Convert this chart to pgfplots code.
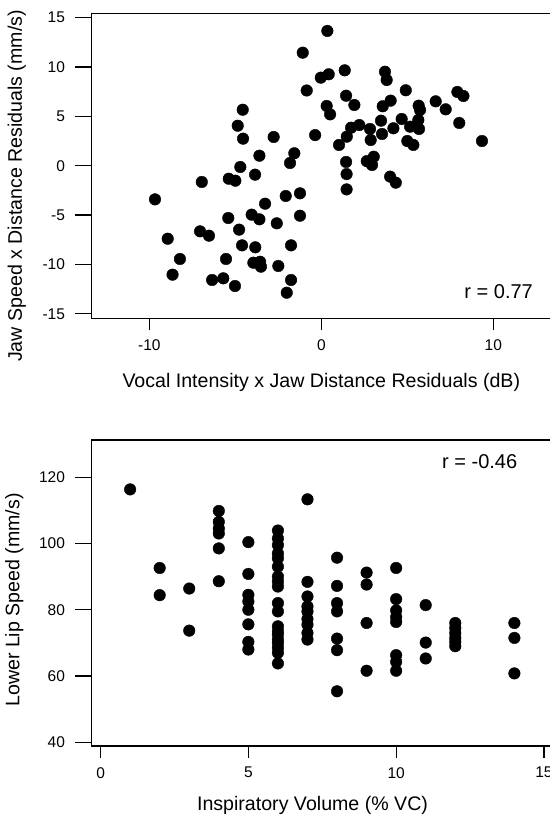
\documentclass[border=0pt]{standalone}
\usepackage{fontspec}
\setmainfont{Liberation Sans}
\usepackage{pgfplots}
\pgfplotsset{compat=1.18}
\begin{document}
\begin{tikzpicture}
\pgfplotsset{
  myax/.style={
    scale only axis, width=462pt,
    axis line style={line width=1.1pt},
    tick align=outside, tick pos=left,
    tick style={line width=1.1pt, black},
    major tick length=16.7pt,
    minor tick length=11.7pt,
    major x tick style={draw=none},
    minor x tick style={draw=black, line width=1.1pt},
    ticklabel style={font=\fontsize{15.5}{16}\selectfont},
    /pgf/number format/assume math mode=true,
    label style={font=\fontsize{19.6}{22}\selectfont},
    yticklabel style={xshift=-6.5pt},
    xticklabel style={yshift=-1pt},
  }
}
\begin{axis}[myax, at={(91.7pt,497.7pt)}, anchor=south west, height=305pt,
  xmin=-13.35, xmax=13.51, ymin=-15.46, ymax=15.44,
  xtick={-10,0,10}, minor xtick={-10,0,10}, ytick={-15,-10,-5,0,5,10,15},
  xlabel={Vocal Intensity x Jaw Distance Residuals (dB)},
  ylabel={Jaw Speed x Distance Residuals (mm/s)},
  xlabel style={at={(axis description cs:0.497,-0.228)}, anchor=base},
  ylabel style={at={(axis description cs:-0.1509,0.434)}, anchor=base},
]
\addplot[only marks, mark=*, black, mark size=5.8pt] coordinates {
(-1.08,11.45) (0.35,13.65) (1.36,9.66) (-0.03,8.92) (0.43,9.26) (-0.85,7.62)
(3.70,9.52) (3.80,8.68) (4.91,7.64) (1.44,7.09) (1.92,6.15) (4.03,6.59)
(3.57,6.02) (0.31,6.05) (0.51,5.20) (7.91,7.47) (8.26,7.06) (6.65,6.52)
(7.23,5.71) (5.66,6.08) (5.74,5.64) (8.02,4.33) (9.34,2.50) (-0.36,3.10)
(1.73,3.85) (2.21,4.12) (1.48,2.94) (1.03,2.10) (2.83,3.72) (2.87,2.60)
(3.47,4.56) (3.53,3.21) (4.19,3.79) (4.67,4.73) (5.16,3.95) (5.64,4.63)
(5.68,3.72) (5.00,2.50) (5.35,2.10) (1.44,0.38) (2.64,0.46) (3.05,0.91)
(2.95,0.07) (1.47,-0.85) (1.47,-2.40) (4.00,-1.11) (4.33,-1.72)
(-4.57,5.67) (-4.86,4.05) (-4.55,2.74) (-2.77,2.91) (-3.60,1.01) (-1.57,1.26)
(-1.82,0.27) (-4.71,-0.13) (-9.67,-3.41) (-6.95,-1.65) (-5.38,-1.32) (-5.00,-1.52)
(-3.85,-0.91) (-2.07,-3.07) (-1.24,-2.80) (-3.27,-3.85) (-4.05,-4.96) (-3.60,-5.43)
(-5.41,-5.30) (-1.24,-5.07) (-2.59,-5.84) (-4.78,-6.48) (-7.05,-6.65) (-6.53,-7.09)
(-8.93,-7.40) (-8.22,-9.45) (-8.65,-11.04) (-4.61,-8.07) (-3.84,-8.27) (-1.76,-8.07)
(-5.54,-9.45) (-3.95,-9.83) (-3.56,-9.73) (-3.51,-10.23) (-2.50,-10.16) (-6.35,-11.58)
(-5.70,-11.41) (-5.02,-12.19) (-1.76,-11.58) (-2.01,-12.87)
};
\node[anchor=base west, inner sep=0pt, font=\fontsize{20}{22}\selectfont] at (axis cs:8.31,-13.43) {r = 0.77};
\end{axis}
\begin{axis}[myax, at={(91.7pt,70pt)}, anchor=south west, height=306pt,
  xmin=-0.3, xmax=15.33, ymin=38.9, ymax=131.2,
  xtick={0,5,10,15}, minor xtick={0,5,10,15}, ytick={40,60,80,100,120},
  xlabel={Inspiratory Volume (\% VC)},
  ylabel={Lower Lip Speed (mm/s)},
  xlabel style={at={(axis description cs:0.478,-0.2114)}, anchor=base},
  ylabel style={at={(axis description cs:-0.1563,0.477)}, anchor=base},
]
\addplot[only marks, mark=*, black, mark size=5.8pt] coordinates {
(1,116.3)
(2,92.6) (2,84.4)
(3,86.4) (3,73.7)
(4,109.8) (4,106.5) (4,104.5) (4,103.0) (4,98.5) (4,88.6)
(5,100.4) (5,90.8) (5,84.5) (5,82.5) (5,80.0) (5,75.6) (5,70.3) (5,68.0)
(6,103.9) (6,101.5) (6,99.5) (6,97.0) (6,95.5) (6,93.0) (6,90.0) (6,88.5) (6,87.0)
(6,82.0) (6,79.5) (6,75.0) (6,73.5) (6,72.5) (6,71.0) (6,70.0) (6,68.5) (6,67.0) (6,63.8)
(7,113.3) (7,88.4) (7,84.0) (7,81.0) (7,79.5) (7,77.2) (7,75.5) (7,73.0) (7,71.0)
(8,95.7) (8,87.2) (8,82.0) (8,79.5) (8,71.3) (8,67.8) (8,55.4)
(9,91.2) (9,87.6) (9,76.0) (9,61.6)
(10,92.6) (10,83.2) (10,79.8) (10,77.8) (10,76.3) (10,66.3) (10,64.3) (10,61.6)
(11,81.4) (11,70.1) (11,65.3)
(12,76.0) (12,74.5) (12,73.0) (12,71.5) (12,70.3) (12,69.0)
(14,76.0) (14,71.5) (14,60.8)
};
\node[anchor=base west, inner sep=0pt, font=\fontsize{20}{22}\selectfont] at (axis cs:11.55,122.5) {r = -0.46};
\end{axis}
\pgfresetboundingbox
\path[use as bounding box] (0pt,0pt) rectangle (549pt,816pt);
\end{tikzpicture}
\end{document}
